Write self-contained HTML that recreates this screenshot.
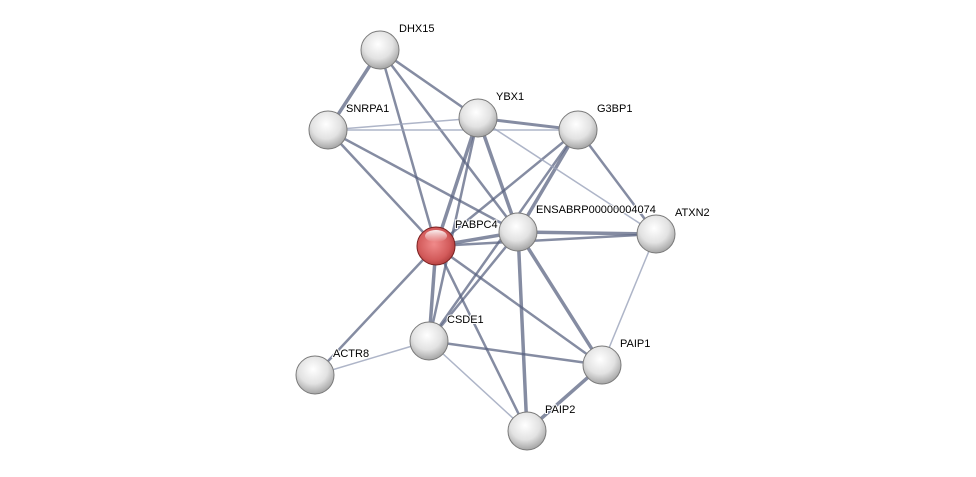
<!DOCTYPE html>
<html><head><meta charset="utf-8"><style>
html,body{margin:0;padding:0;background:#fff;}
svg{display:block;}
text{font-family:"Liberation Sans",sans-serif;font-size:11px;fill:#000;paint-order:stroke;stroke:#fff;stroke-width:2px;}
</style></head><body>
<svg width="976" height="477" viewBox="0 0 976 477" xmlns="http://www.w3.org/2000/svg">
<defs>
<radialGradient id="w" cx="0.45" cy="0.35" r="0.7">
<stop offset="0" stop-color="#ffffff"/><stop offset="0.55" stop-color="#e2e2e2"/><stop offset="1" stop-color="#9a9a9a"/>
</radialGradient>
<radialGradient id="r" cx="0.45" cy="0.45" r="0.7">
<stop offset="0" stop-color="#f08a8a"/><stop offset="0.6" stop-color="#d25a5a"/><stop offset="1" stop-color="#962828"/>
</radialGradient>
<linearGradient id="hl" x1="0" y1="0" x2="0" y2="1">
<stop offset="0" stop-color="#fff" stop-opacity="0.9"/><stop offset="1" stop-color="#fff" stop-opacity="0"/>
</linearGradient>
</defs>
<g stroke-linecap="round">
<g stroke="#56607e" stroke-opacity="0.72" stroke-width="2.5">
<line x1="380" y1="50" x2="328" y2="130" stroke-width="3.5"/>
<line x1="380" y1="50" x2="478" y2="118"/>
<line x1="380" y1="50" x2="436" y2="246"/>
<line x1="380" y1="50" x2="518" y2="232"/>
<line x1="328" y1="130" x2="436" y2="246"/>
<line x1="328" y1="130" x2="518" y2="232"/>
<line x1="478" y1="118" x2="578" y2="130" stroke-width="3"/>
<line x1="478" y1="118" x2="436" y2="246" stroke-width="3.5"/>
<line x1="478" y1="118" x2="518" y2="232" stroke-width="3.5"/>
<line x1="478" y1="118" x2="429" y2="341"/>
<line x1="578" y1="130" x2="436" y2="246"/>
<line x1="578" y1="130" x2="518" y2="232" stroke-width="3.5"/>
<line x1="578" y1="130" x2="656" y2="234"/>
<line x1="578" y1="130" x2="429" y2="341"/>
<line x1="436" y1="246" x2="518" y2="232" stroke-width="3.5"/>
<line x1="436" y1="246" x2="656" y2="234"/>
<line x1="436" y1="246" x2="429" y2="341" stroke-width="3.5"/>
<line x1="436" y1="246" x2="315" y2="375"/>
<line x1="436" y1="246" x2="602" y2="365"/>
<line x1="436" y1="246" x2="527" y2="431"/>
<line x1="518" y1="232" x2="656" y2="234" stroke-width="3.5"/>
<line x1="518" y1="232" x2="429" y2="341"/>
<line x1="518" y1="232" x2="602" y2="365" stroke-width="3.5"/>
<line x1="518" y1="232" x2="527" y2="431" stroke-width="3.5"/>
<line x1="429" y1="341" x2="602" y2="365"/>
<line x1="602" y1="365" x2="527" y2="431" stroke-width="3.5"/>
</g>
<g stroke="#9aa2ba" stroke-opacity="0.8" stroke-width="1.5">
<line x1="328" y1="130" x2="478" y2="118"/>
<line x1="328" y1="130" x2="578" y2="130"/>
<line x1="478" y1="118" x2="656" y2="234"/>
<line x1="656" y1="234" x2="602" y2="365"/>
<line x1="429" y1="341" x2="315" y2="375"/>
<line x1="429" y1="341" x2="527" y2="431"/>
</g>
</g>
<g stroke="#7a7a7a" stroke-width="1">
<circle cx="380" cy="50" r="19" fill="url(#w)"/>
<circle cx="328" cy="130" r="19" fill="url(#w)"/>
<circle cx="478" cy="118" r="19" fill="url(#w)"/>
<circle cx="578" cy="130" r="19" fill="url(#w)"/>
<circle cx="518" cy="232" r="19" fill="url(#w)"/>
<circle cx="656" cy="234" r="19" fill="url(#w)"/>
<circle cx="429" cy="341" r="19" fill="url(#w)"/>
<circle cx="315" cy="375" r="19" fill="url(#w)"/>
<circle cx="602" cy="365" r="19" fill="url(#w)"/>
<circle cx="527" cy="431" r="19" fill="url(#w)"/>
<circle cx="436" cy="246" r="19" fill="url(#r)" stroke="#7a2020"/>
</g>
<ellipse cx="436" cy="236" rx="11" ry="6" fill="url(#hl)"/>
<text x="399" y="32">DHX15</text>
<text x="346" y="112">SNRPA1</text>
<text x="496" y="100">YBX1</text>
<text x="597" y="112">G3BP1</text>
<text x="455" y="228">PABPC4</text>
<text x="536" y="213">ENSABRP00000004074</text>
<text x="675" y="216">ATXN2</text>
<text x="447" y="323">CSDE1</text>
<text x="333" y="357">ACTR8</text>
<text x="620" y="347">PAIP1</text>
<text x="545" y="413">PAIP2</text>
</svg>
</body></html>
